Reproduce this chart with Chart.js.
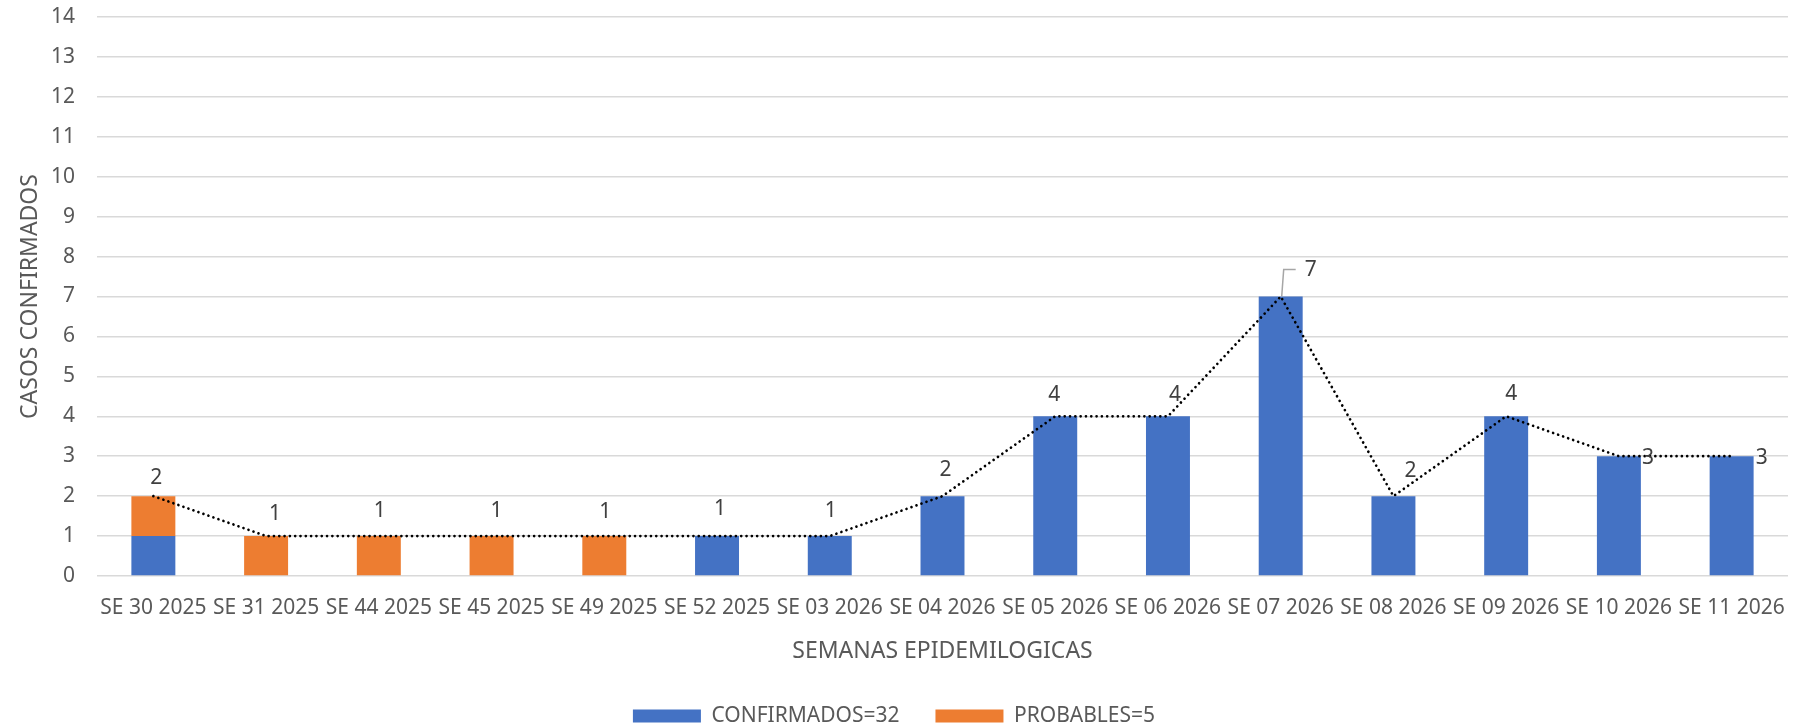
<!DOCTYPE html>
<html>
<head>
<meta charset="utf-8">
<script src="https://cdn.jsdelivr.net/npm/chart.js@4.4.1/dist/chart.umd.min.js"></script>
<style>
  html, body { margin: 0; padding: 0; background: #fff; }
  #wrap { width: 1806px; height: 723px; }
</style>
</head>
<body>
<div id="wrap"><canvas id="grafico" width="1806" height="723"></canvas></div>
<script>
// datos
const semanas = ['SE 30 2025','SE 31 2025','SE 44 2025','SE 45 2025','SE 49 2025','SE 52 2025','SE 03 2026',
  'SE 04 2026','SE 05 2026','SE 06 2026','SE 07 2026','SE 08 2026','SE 09 2026','SE 10 2026','SE 11 2026'];
const confirmados = [1,0,0,0,0,1,1,2,4,4,7,2,4,3,3];
const probables   = [1,1,1,1,1,0,0,0,0,0,0,0,0,0,0];
const totales     = [2,1,1,1,1,1,1,2,4,4,7,2,4,3,3];
const ticksY = [0,1,2,3,4,5,6,7,8,9,10,11,12,13,14];

const AZUL = '#4472c4';
const NARANJA = '#ed7d31';
const GRIS_TXT = '#595959';

// desplazamiento de cada etiqueta respecto a su punto (como quedo en excel)
const desplaz = [[3,-18],[9,-22],[1,-25],[5,-25],[1,-24],[3,-27],[1,-25],[3,-26],[-1,-21],[7,-21],
  [30,-26],[17,-25],[5,-22],[29,2],[30,2]];

const etiquetas = {
  id: 'etiquetas',
  afterDatasetsDraw(chart) {
    const meta = chart.getDatasetMeta(2);
    const ctx = chart.ctx;
    ctx.save();
    ctx.font = "21px 'Noto Sans'";
    ctx.fillStyle = '#404040';
    ctx.textAlign = 'center';
    ctx.textBaseline = 'middle';
    meta.data.forEach((p, i) => {
      const [dx, dy] = desplaz[i];
      if (i === 10) {
        // linea guia del 7
        ctx.strokeStyle = '#a6a6a6';
        ctx.lineWidth = 1.5;
        ctx.beginPath();
        ctx.moveTo(p.x + 1, p.y);
        ctx.lineTo(p.x + 3, p.y + dy - 1);
        ctx.lineTo(p.x + 15, p.y + dy - 1);
        ctx.stroke();
      }
      ctx.fillText(String(totales[i]), p.x + dx, p.y + dy);
    });
    ctx.restore();
  }
};

Chart.defaults.font.family = "'Noto Sans'";
Chart.defaults.font.size = 21;
Chart.defaults.color = GRIS_TXT;

new Chart(document.getElementById('grafico'), {
  type: 'bar',
  data: {
    labels: semanas,
    datasets: [
      { label: 'CONFIRMADOS=32', data: confirmados, backgroundColor: AZUL, stack: 'casos', order: 1,
        barPercentage: 0.39, categoryPercentage: 1 },
      { label: 'PROBABLES=5', data: probables, backgroundColor: NARANJA, stack: 'casos', order: 1,
        barPercentage: 0.39, categoryPercentage: 1 },
      { type: 'line', label: 'total', data: totales, stack: 'total', order: 0,
        borderColor: '#000', borderWidth: 2.7, borderDash: [0.01, 5.3], borderCapStyle: 'round',
        pointRadius: 0, fill: false, tension: 0 }
    ]
  },
  options: {
    responsive: false,
    animation: false,
    layout: { padding: { left: 0, right: 18, top: 17, bottom: -13.5 } },
    plugins: {
      tooltip: { enabled: false },
      legend: {
        position: 'bottom',
        labels: {
          boxWidth: 68, boxHeight: 13, padding: 36, color: GRIS_TXT,
          filter: (item) => item.datasetIndex < 2
        }
      }
    },
    scales: {
      x: {
        stacked: true,
        afterFit: (s) => { s.height = 93.5; },
        grid: { display: false, drawTicks: false },
        border: { display: false },
        ticks: { autoSkip: false, maxRotation: 0, minRotation: 0, padding: 19, color: GRIS_TXT },
        title: { display: true, text: 'SEMANAS EPIDEMILOGICAS', color: GRIS_TXT, font: { size: 23 },
          padding: { top: 13, bottom: 4 } }
      },
      y: {
        stacked: true,
        min: 0, max: 14,
        afterBuildTicks: (s) => { s.ticks = ticksY.map(v => ({ value: v })); },
        afterFit: (s) => { s.width = 97; s.paddingTop = 0; s.paddingBottom = 0; },
        grid: { color: '#d9d9d9', lineWidth: 1.5, drawTicks: false },
        border: { display: false },
        ticks: { padding: 22, color: GRIS_TXT },
        title: { display: true, text: 'CASOS CONFIRMADOS', color: GRIS_TXT, font: { size: 23 },
          padding: { top: 17, bottom: 0 } }
      }
    }
  },
  plugins: [etiquetas]
});
</script>
</body>
</html>
